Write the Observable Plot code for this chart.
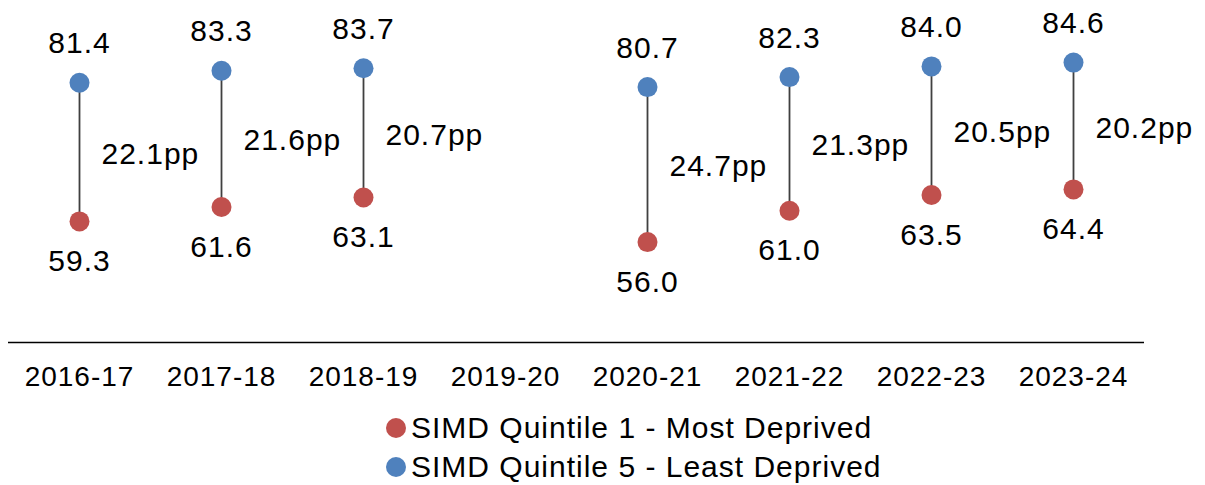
<!DOCTYPE html>
<html>
<head>
<meta charset="utf-8">
<script src="https://cdn.jsdelivr.net/npm/d3@7"></script>
<script src="https://cdn.jsdelivr.net/npm/@observablehq/plot@0.6"></script>
<style>
  body { margin: 0; background: #fff; font-family: "Liberation Sans", Arial, sans-serif; }
  #chart svg { display: block; }
  .legend { margin-top: 8px; padding-left: 386px; font-size: 30px; letter-spacing: 1px; color: #000; }
  .legend .row { height: 39px; display: flex; align-items: center; }
  .legend .sw { width: 20px; height: 20px; border-radius: 50%; margin-right: 5px; }
</style>
</head>
<body>
<div id="chart"></div>
<script>
const years = ["2016-17", "2017-18", "2018-19", "2019-20", "2020-21", "2021-22", "2022-23", "2023-24"];
const quintile1 = [59.3, 61.6, 63.1, null, 56.0, 61.0, 63.5, 64.4];
const quintile5 = [81.4, 83.3, 83.7, null, 80.7, 82.3, 84.0, 84.6];
const gapLabels = ["22.1pp", "21.6pp", "20.7pp", null, "24.7pp", "21.3pp", "20.5pp", "20.2pp"];
const seriesNames = ["SIMD Quintile 1 - Most Deprived", "SIMD Quintile 5 - Least Deprived"];
const colors = ["#C0504D", "#4F81BD"];

const rows = years.map((y, i) => ({year: y, q1: quintile1[i], q5: quintile5[i], gap: gapLabels[i]}))
  .filter(d => d.q1 != null);

const fs = 30;
const chart = Plot.plot({
  width: 1205,
  height: 400,
  marginLeft: 8,
  marginRight: 61,
  marginTop: 0,
  marginBottom: 58,
  style: {fontFamily: "'Liberation Sans', Arial, sans-serif", fontSize: fs + "px", letterSpacing: "1px", color: "#000", background: "#fff", overflow: "visible"},
  x: {type: "band", domain: years, padding: 0, label: null},
  y: {domain: [40, 94.5], axis: null},
  marks: [
    Plot.ruleY([40], {stroke: "#000", strokeWidth: 1.5}),
    Plot.axisX({tickSize: 0, tickPadding: 24, fontSize: 28, fill: "#000", label: null}),
    Plot.link(rows, {x1: "year", x2: "year", y1: "q1", y2: "q5", stroke: "#404040", strokeWidth: 1.8}),
    Plot.dot(rows, {x: "year", y: "q5", r: 10, fill: colors[1]}),
    Plot.dot(rows, {x: "year", y: "q1", r: 10, fill: colors[0]}),
    Plot.text(rows, {x: "year", y: "q5", text: d => d.q5.toFixed(1), dy: -39, fontSize: fs, fill: "#000"}),
    Plot.text(rows, {x: "year", y: "q1", text: d => d.q1.toFixed(1), dy: 40, fontSize: fs, fill: "#000"}),
    Plot.text(rows, {x: "year", y: d => (d.q1 + d.q5) / 2, text: "gap", dx: 22, dy: 2, textAnchor: "start", fontSize: fs, fill: "#000"})
  ]
});
document.getElementById("chart").appendChild(chart);

const legend = document.createElement("div");
legend.className = "legend";
seriesNames.forEach((name, i) => {
  const row = document.createElement("div");
  row.className = "row";
  const sw = document.createElement("span");
  sw.className = "sw";
  sw.style.background = colors[i];
  const label = document.createElement("span");
  label.textContent = name;
  row.appendChild(sw);
  row.appendChild(label);
  legend.appendChild(row);
});
document.body.appendChild(legend);
</script>
</body>
</html>
